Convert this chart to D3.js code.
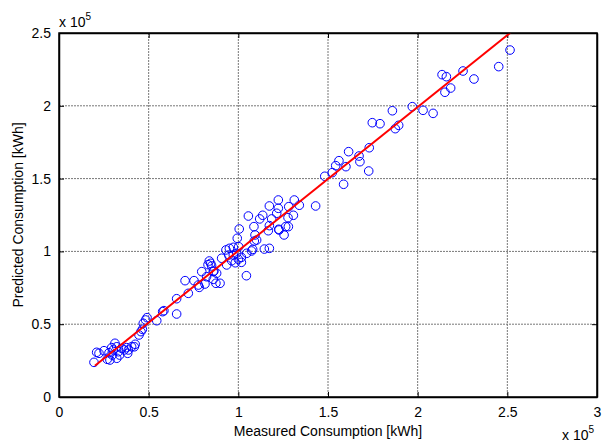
<!DOCTYPE html>
<html>
<head>
<meta charset="utf-8">
<script src="https://cdn.jsdelivr.net/npm/d3@7"></script>
<style>
  body { margin: 0; background: #fff; }
  svg { font-family: "Liberation Sans", Arial, sans-serif; }
</style>
</head>
<body>
<div class="chart"></div>
<script>
// values in units of 1e5 kWh
const measured = [
  0.195, 0.210, 0.223, 0.251, 0.269, 0.279, 0.294, 0.297, 0.312, 0.322,
  0.303, 0.331, 0.338, 0.350, 0.364, 0.377, 0.387, 0.383, 0.405, 0.420,
  0.322, 0.284, 0.425, 0.446, 0.457, 0.465, 0.470, 0.483, 0.491,
  0.545, 0.578, 0.585, 0.656, 0.656, 0.703, 0.721, 0.753,
  0.777, 0.814, 0.796, 0.823, 0.838, 0.846, 0.831, 0.851, 0.860, 0.860,
  0.875, 0.898, 0.782, 0.864, 0.879, 0.907, 0.935, 0.931, 0.946, 0.950,
  0.972, 0.972, 0.991, 0.963, 0.983, 1.000, 1.017, 1.017, 1.047, 1.045,
  1.074, 1.002, 0.994, 1.005, 1.093, 1.089, 1.080, 1.102, 1.087, 1.056,
  1.145, 1.173, 1.119, 1.136, 1.186, 1.173, 1.167, 1.264, 1.227, 1.255,
  1.173, 1.223, 1.312, 1.340, 1.281, 1.223, 1.214, 1.307, 1.277, 1.225,
  1.279, 1.431,
  1.482, 1.524, 1.543, 1.561, 1.600, 1.587, 1.615, 1.673, 1.678, 1.727,
  1.730, 1.747, 1.790, 1.859, 1.875, 1.894,
  1.970, 2.030, 2.086, 2.136, 2.160, 2.184, 2.152, 2.253, 2.314, 2.452, 2.515
]
const predicted = [
  0.238, 0.307, 0.300, 0.318, 0.259, 0.304, 0.339, 0.288, 0.369, 0.345,
  0.323, 0.311, 0.288, 0.334, 0.323, 0.339, 0.323, 0.300, 0.345, 0.345,
  0.266, 0.254, 0.362, 0.426, 0.449, 0.465, 0.506, 0.529, 0.545,
  0.524, 0.586, 0.593, 0.570, 0.675, 0.799, 0.712, 0.799,
  0.769, 0.776, 0.861, 0.826, 0.934, 0.918, 0.909, 0.900, 0.861, 0.808,
  0.781, 0.781, 0.753, 0.865, 0.850, 0.953, 0.907, 1.010, 0.975, 1.021,
  1.028, 0.975, 0.987, 0.936, 0.922, 0.946, 0.959, 0.925, 0.987, 0.833,
  1.003, 1.032, 1.090, 1.154, 1.113, 1.071, 1.014, 1.078, 1.170, 1.243,
  1.016, 1.021, 1.223, 1.248, 1.223, 1.177, 1.142, 1.170, 1.147, 1.113,
  1.312, 1.353, 1.353, 1.317, 1.307, 1.296, 1.262, 1.248, 1.232, 1.152,
  1.170, 1.312,
  1.516, 1.541, 1.589, 1.623, 1.582, 1.461, 1.685, 1.655, 1.616, 1.552,
  1.712, 1.884, 1.877, 1.966, 1.843, 1.866,
  1.994, 1.969, 1.948, 2.214, 2.200, 2.122, 2.093, 2.239, 2.184, 2.269, 2.383
]
// fitted line end points
const fitX = [0.20, 2.52]
const fitY = [0.215, 2.505]

const xTicks = [0, 0.5, 1, 1.5, 2, 2.5, 3]
const yTicks = [0, 0.5, 1, 1.5, 2, 2.5]

const W = 605, H = 443
const pL = 59, pR = 597, pT = 33, pB = 397

let svg = d3.select('.chart')
  .append('svg')
  .attr('width', W)
  .attr('height', H)

let x = d3.scaleLinear().domain([0, 3]).range([pL, pR])
let y = d3.scaleLinear().domain([0, 2.5]).range([pB, pT])

// grid
let grid = svg.append('g')
grid.selectAll('.gx')
  .data(xTicks.slice(1, -1))
  .enter().append('line')
  .attr('x1', d => x(d)).attr('x2', d => x(d))
  .attr('y1', pT).attr('y2', pB)
  .attr('stroke', '#777')
  .attr('stroke-dasharray', '2,1')
grid.selectAll('.gy')
  .data(yTicks.slice(1, -1))
  .enter().append('line')
  .attr('y1', d => y(d)).attr('y2', d => y(d))
  .attr('x1', pL).attr('x2', pR)
  .attr('stroke', '#777')
  .attr('stroke-dasharray', '2,1')

// axes (ticks point inward, mirrored)
let fmt = d => d3.format('~g')(d)
svg.append('g')
  .attr('transform', `translate(0,${pB})`)
  .call(d3.axisBottom(x).tickValues(xTicks).tickFormat(fmt).tickSizeInner(-5).tickSizeOuter(0).tickPadding(10))
svg.append('g')
  .attr('transform', `translate(0,${pT})`)
  .call(d3.axisTop(x).tickValues(xTicks).tickFormat('').tickSizeInner(-5).tickSizeOuter(0))
svg.append('g')
  .attr('transform', `translate(${pL},0)`)
  .call(d3.axisLeft(y).tickValues(yTicks).tickFormat(fmt).tickSizeInner(-5).tickSizeOuter(0).tickPadding(8))
svg.append('g')
  .attr('transform', `translate(${pR},0)`)
  .call(d3.axisRight(y).tickValues(yTicks).tickFormat('').tickSizeInner(-5).tickSizeOuter(0))

svg.selectAll('.domain').attr('stroke', '#000').attr('stroke-width', 1.5)
svg.selectAll('.tick line').attr('stroke', '#000')
svg.selectAll('.tick text')
  .attr('fill', '#000')
  .style('font-size', '14px')
  .style('font-family', '"Liberation Sans", Arial, sans-serif')

// points
let pts = measured.map((m, i) => [m, predicted[i]])
svg.append('g')
  .selectAll('circle')
  .data(pts)
  .enter().append('circle')
  .attr('cx', d => x(d[0]))
  .attr('cy', d => y(d[1]))
  .attr('r', 4.3)
  .attr('fill', 'none')
  .attr('stroke', '#0000ff')
  .attr('stroke-width', 1)

// fit line
svg.append('clipPath').attr('id', 'clip')
  .append('rect')
  .attr('x', pL).attr('y', pT)
  .attr('width', pR - pL).attr('height', pB - pT)
let line = d3.line().x(d => x(d[0])).y(d => y(d[1]))
svg.append('path')
  .datum(fitX.map((v, i) => [v, fitY[i]]))
  .attr('d', line)
  .attr('clip-path', 'url(#clip)')
  .attr('fill', 'none')
  .attr('stroke', '#ff0000')
  .attr('stroke-width', 2)

// box
svg.append('rect')
  .attr('x', pL).attr('y', pT)
  .attr('width', pR - pL).attr('height', pB - pT)
  .attr('fill', 'none')
  .attr('stroke', '#000')
  .attr('stroke-width', 1.5)

// labels
svg.append('text')
  .attr('x', (pL + pR) / 2).attr('y', 436)
  .attr('text-anchor', 'middle')
  .style('font-size', '14px')
  .text('Measured Consumption [kWh]')
svg.append('text')
  .attr('transform', `translate(23,${(pT + pB) / 2}) rotate(-90)`)
  .attr('text-anchor', 'middle')
  .style('font-size', '14px')
  .text('Predicted Consumption [kWh]')

// exponent labels
let expo = (tx, ty) => {
  let t = svg.append('text')
    .attr('x', tx).attr('y', ty)
    .style('font-size', '14px')
  t.append('tspan').text('x 10')
  t.append('tspan').attr('dy', -7).style('font-size', '10px').text('5')
}
expo(59, 27)
expo(562, 440)
</script>
</body>
</html>
